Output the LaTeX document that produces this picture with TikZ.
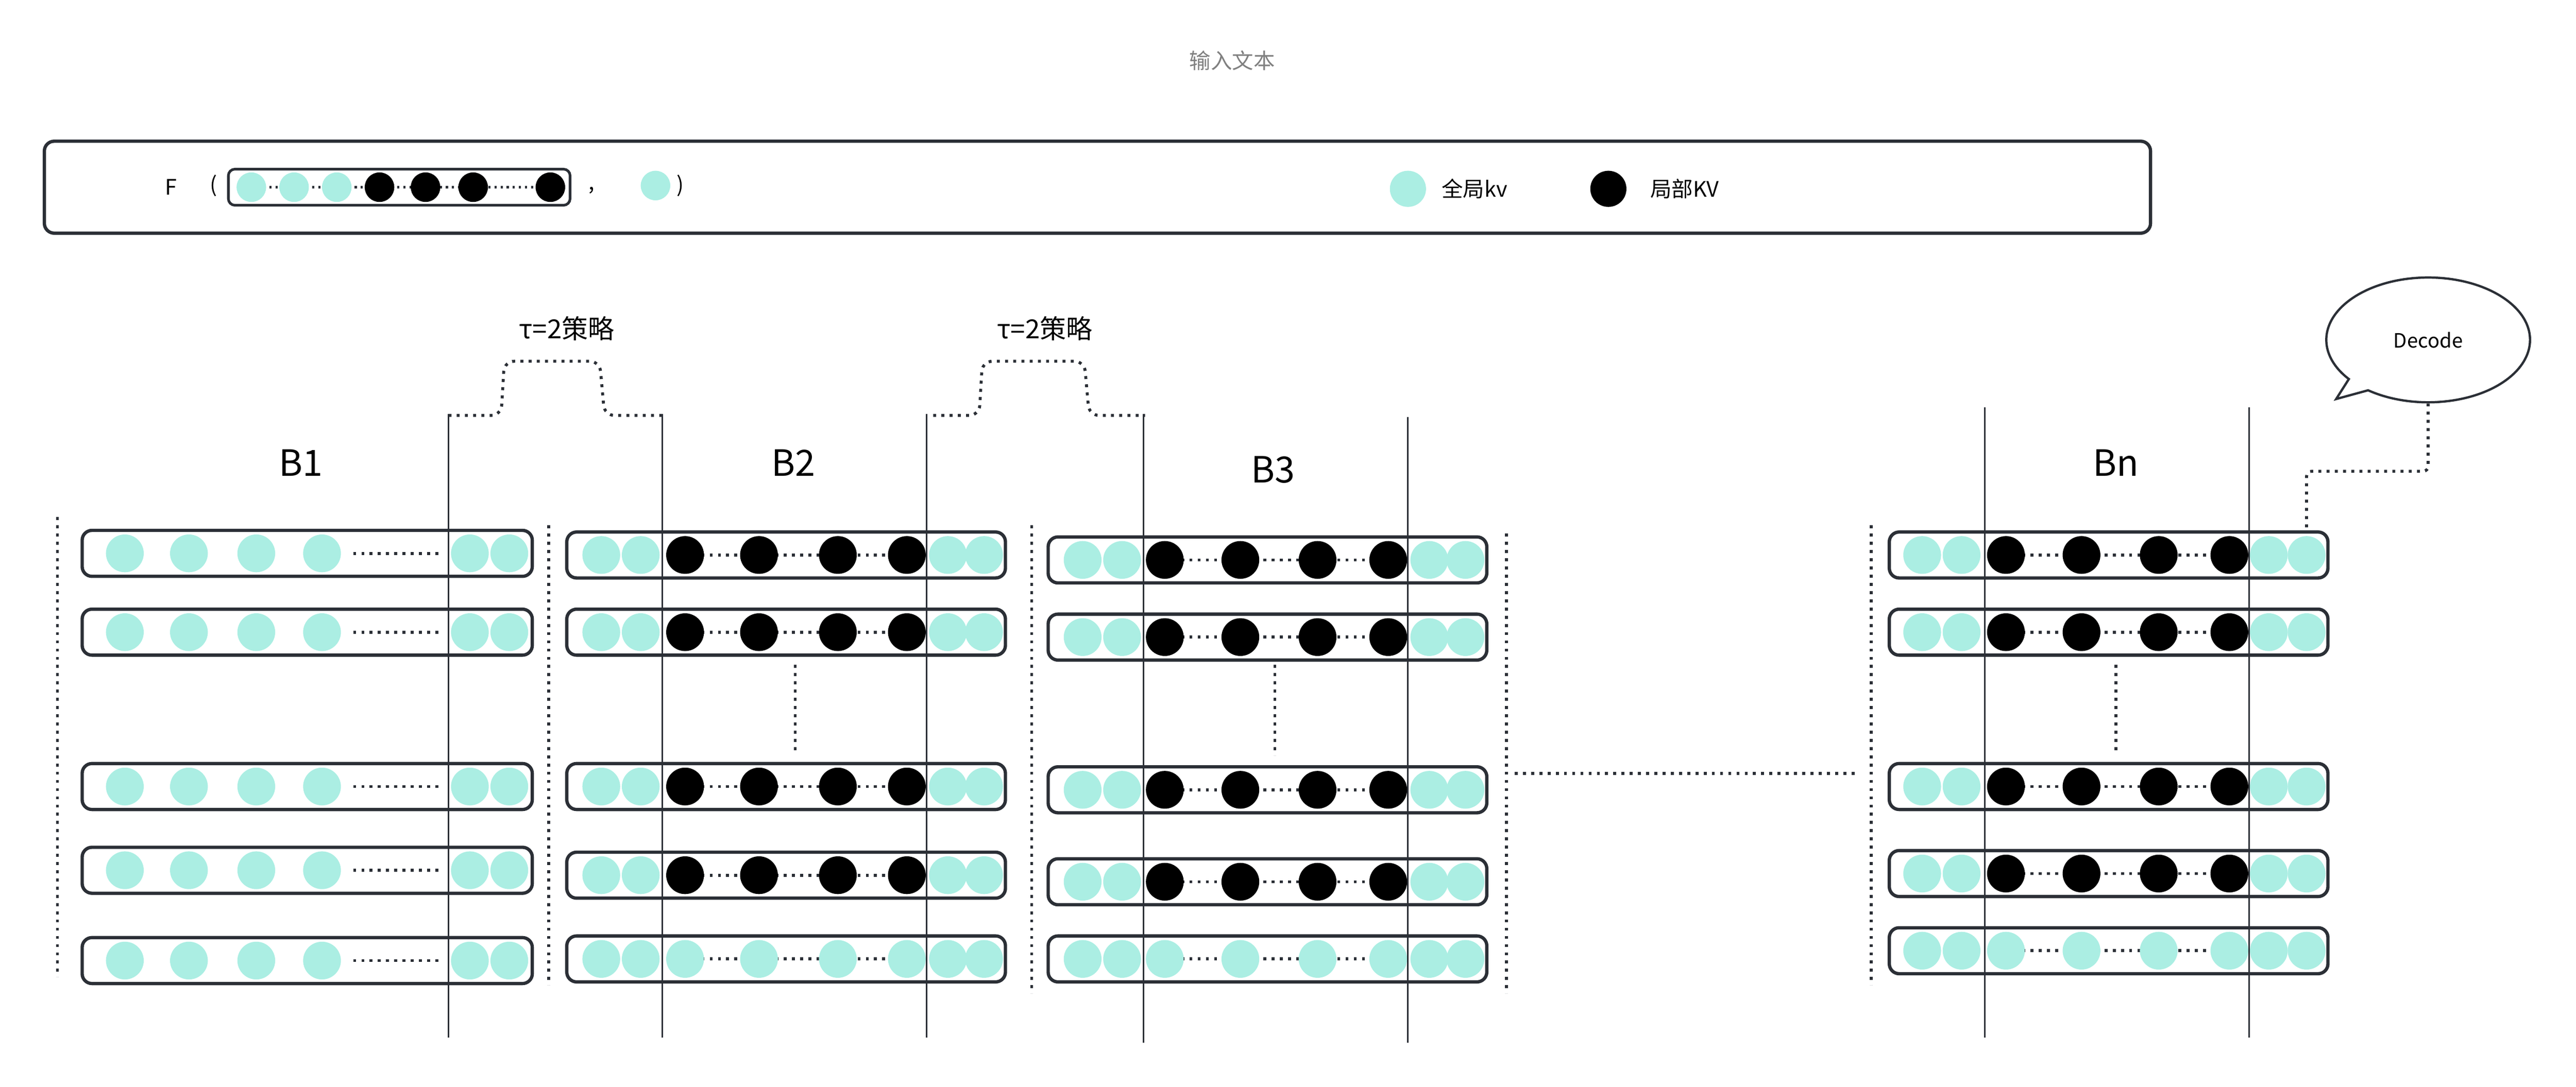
\documentclass[tikz,border=0pt]{standalone}
\usepackage{fontspec}
\setmainfont{Noto Sans CJK SC}
\usetikzlibrary{shapes.callouts}
\definecolor{kvg}{HTML}{ABEEE3}
\definecolor{dk}{HTML}{2B2F36}
\tikzset{
  box/.style={draw=dk,line width=2pt,rounded corners=6pt},
  dots/.style={draw=dk,line width=1.8pt,dash pattern=on 1.8pt off 3.2pt},
  vl/.style={draw=dk,line width=0.9pt},
  g/.style={fill=kvg,draw=none},
  l/.style={fill=black,draw=none},
}
\newcommand\kvrow[6]{%
  \draw[dots] (#4,#3) -- (#5,#3);
  \foreach \cx/\ct in {#6} {\fill[\ct] (\cx,#3) circle (11.5pt);}
  \draw[box] (#1,#3-14) rectangle (#2,#3+14);
}
\begin{document}
\begin{tikzpicture}[x=1pt,y=-1pt]
\useasboundingbox (0,0) rectangle (1568,662);
% title
\node[text=gray,font=\fontsize{13}{15}\selectfont] (title) at (750,37) {输入文本};
% top box
\draw[box] (27,86) rectangle (1309,142);
\node[font=\fontsize{13}{15}\selectfont] (F) at (104,114) {F};
\node[font=\fontsize{13}{15}\selectfont] (lp) at (130,113) {(};
\draw[dots,line width=1.3pt,dash pattern=on 1.3pt off 2.4pt] (153,114) -- (335,114);
\foreach \cx/\ct in {153/g,179/g,205/g,231/l,259/l,288/l,335/l} {\fill[\ct] (\cx,114) circle (9pt);}
\draw[box,line width=1.6pt,rounded corners=4pt] (139,103) rectangle (347,125);
\node[font=\fontsize{13}{15}\selectfont] (cm) at (360,116) {,};
\fill[g] (399,113) circle (9pt);
\node[font=\fontsize{13}{15}\selectfont] (rp) at (414,113) {)};
\fill[g] (857,115) circle (11pt);
\node[anchor=west,font=\fontsize{13}{15}\selectfont] (lg1) at (874,115) {全局kv};
\fill[l] (979,115) circle (11pt);
\node[anchor=west,font=\fontsize{13}{15}\selectfont] (lg2) at (1001,115) {局部KV};
% labels
\node[font=\fontsize{22}{26}\selectfont] (B1) at (183,282) {B1};
\node[font=\fontsize{22}{26}\selectfont] (B2) at (483,282) {B2};
\node[font=\fontsize{22}{26}\selectfont] (B3) at (775,286) {B3};
\node[font=\fontsize{22}{26}\selectfont] (Bn) at (1288,282) {Bn};
\node[font=\fontsize{16}{19}\selectfont] (t1) at (345,200) {τ=2策略};
\node[font=\fontsize{16}{19}\selectfont] (t2) at (636,200) {τ=2策略};
% B1
\foreach \y in {337,385,479,530,585} {\kvrow{50}{324}{\y}{215}{268}{76/g,115/g,156/g,196/g,286/g,310/g}}
% B2
\foreach \y in {338,385,479,533} {\kvrow{345}{612}{\y}{417}{552}{366/g,390/g,417/l,462/l,510/l,552/l,577/g,599/g}}
\kvrow{345}{612}{584}{417}{552}{366/g,390/g,417/g,462/g,510/g,552/g,577/g,599/g}
% B3
\foreach \y in {341,388,481,537} {\kvrow{638}{905}{\y}{709}{845}{659/g,683/g,709/l,755/l,802/l,845/l,870/g,892/g}}
\kvrow{638}{905}{584}{709}{845}{659/g,683/g,709/g,755/g,802/g,845/g,870/g,892/g}
% Bn
\foreach \y in {338,385,479,532} {\kvrow{1150}{1417}{\y}{1221}{1357}{1170/g,1194/g,1221/l,1267/l,1314/l,1357/l,1381/g,1404/g}}
\kvrow{1150}{1417}{579}{1221}{1357}{1170/g,1194/g,1221/g,1267/g,1314/g,1357/g,1381/g,1404/g}
% mid dotted
\draw[dots] (484,405) -- (484,458);
\draw[dots] (776,405) -- (776,460);
\draw[dots] (1288,405) -- (1288,458);
\draw[dots] (35,315) -- (35,595);
\draw[dots] (334,320) -- (334,600);
\draw[dots] (628,320) -- (628,605);
\draw[dots] (917,325) -- (917,605);
\draw[dots] (1139,320) -- (1139,600);
\draw[dots] (922,471) -- (1130,471);
% vertical lines
\draw[vl] (273,252) -- (273,632);
\draw[vl] (403,252) -- (403,632);
\draw[vl] (564,252) -- (564,632);
\draw[vl] (696,252) -- (696,635);
\draw[vl] (857,254) -- (857,635);
\draw[vl] (1208,248) -- (1208,632);
\draw[vl] (1369,248) -- (1369,632);
% brackets
\draw[dots,rounded corners=6pt] (273,253) -- (305,253) -- (307,220) -- (365,220) -- (368,253) -- (403,253);
\draw[dots,rounded corners=6pt] (568,253) -- (596,253) -- (598,220) -- (660,220) -- (663,253) -- (697,253);
% decode
\node[ellipse callout,draw=dk,line width=1.4pt,minimum width=124pt,minimum height=76pt,
  callout absolute pointer={(1422,243)},font=\fontsize{12}{14}\selectfont] (dec) at (1478,207) {Decode};
\draw[dots,rounded corners=3pt] (dec.south) -- (1478,287) -- (1404,287) -- (1404,322);
\end{tikzpicture}
\end{document}
